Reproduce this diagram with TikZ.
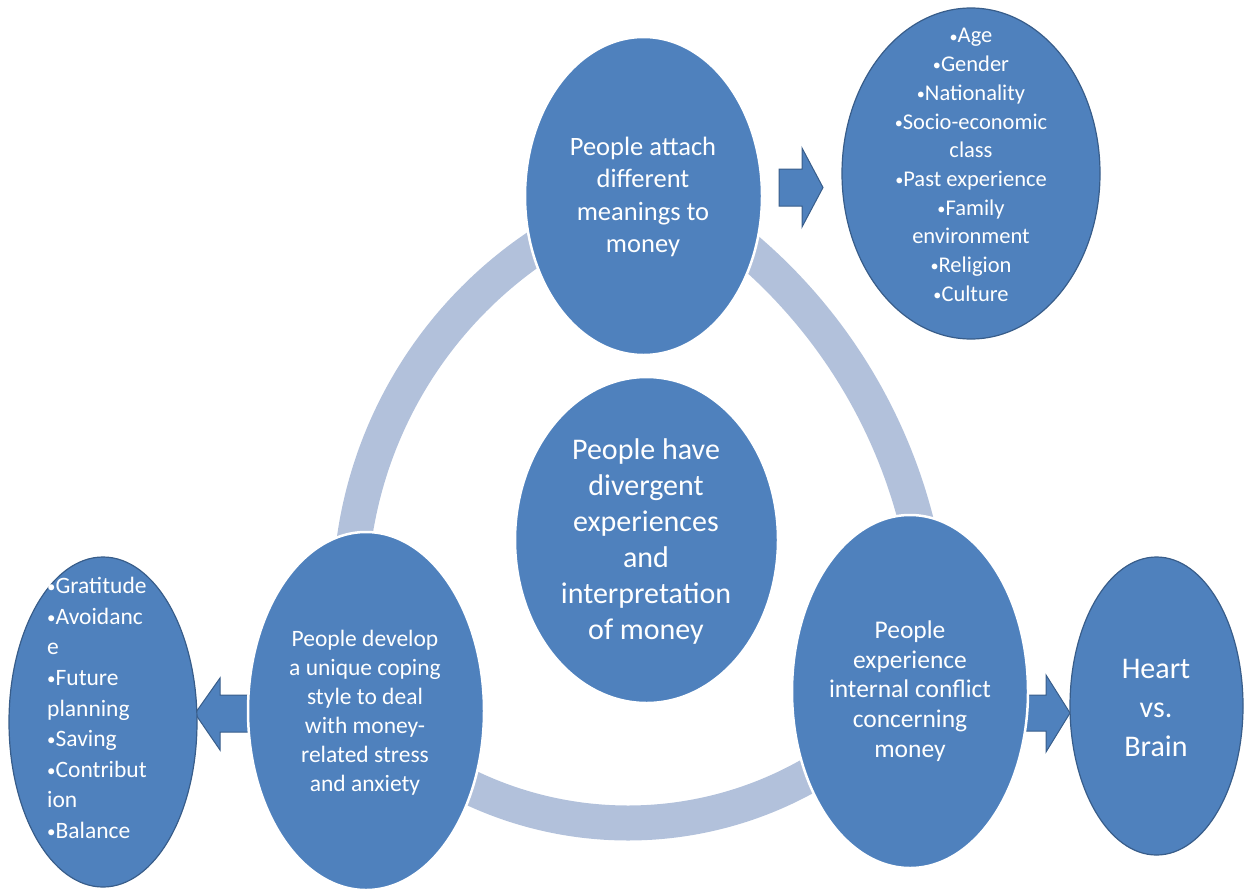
\documentclass[tikz,border=0pt]{standalone}
\usepackage{fontspec}
\usepackage{graphicx}
\setmainfont{Carlito}
\usetikzlibrary{shapes.geometric}
\definecolor{nodeblue}{RGB}{79,129,189}
\definecolor{edgeblue}{RGB}{56,93,138}
\definecolor{ringblue}{RGB}{178,193,219}
\newcommand{\mybullet}{\raisebox{0.04em}{\scalebox{0.72}{•}}}
\tikzset{
  mainell/.style={ellipse, fill=nodeblue, draw=white, line width=2.5pt, inner sep=0pt},
  sideell/.style={ellipse, fill=nodeblue, draw=edgeblue, line width=1.2pt, inner sep=0pt},
  ringarc/.style={draw=ringblue, line width=35pt},
  blockarrow/.style={fill=nodeblue, draw=edgeblue, line width=1pt, line join=miter},
  txt/.style={text=white, align=center, inner sep=0pt},
}
\begin{document}
\begin{tikzpicture}[x=1pt,y=-1pt]
\useasboundingbox (0,0) rectangle (1246,894);
% ring arcs
\draw[ringarc] plot[domain=186:238, samples=80, smooth] ({775+425*cos(\x)}, {599+425*sin(\x)});
\draw[ringarc] plot[domain=-51:-12, samples=80, smooth] ({401.75+531*cos(\x)}, {652.8+531*sin(\x)});
\draw[ringarc] plot[domain=57:119, samples=80, smooth] ({628+368*cos(\x)}, {455+368*sin(\x)});
% block arrows
\draw[blockarrow] (779,169) -- (802,169) -- (802,148) -- (823,187.5) -- (802,227) -- (802,206) -- (779,206) -- cycle;
\draw[blockarrow] (250,695) -- (220,695) -- (220,678) -- (195,713.5) -- (220,750) -- (220,732) -- (250,732) -- cycle;
\draw[blockarrow] (1020,695) -- (1046,695) -- (1046,675) -- (1070,713) -- (1046,752) -- (1046,731) -- (1020,731) -- cycle;
% ellipses
\node[mainell, minimum width=237pt, minimum height=318pt] (meaning) at (643.5,196) {};
\node[sideell, minimum width=258pt, minimum height=331pt] (factors) at (971,173.5) {};
\node[mainell, minimum width=263pt, minimum height=326pt] (core) at (646.5,540) {};
\node[mainell, minimum width=236pt, minimum height=358pt] (coping) at (366,711) {};
\node[mainell, minimum width=236pt, minimum height=353pt] (conflict) at (910,691.5) {};
\node[sideell, minimum width=188pt, minimum height=330pt] (styles) at (103,722) {};
\node[sideell, minimum width=173pt, minimum height=298pt] (heart) at (1156.5,706) {};
% texts
\node[txt, font=\fontsize{26.5}{32.5}\selectfont] (meaningtext) at (643,197) {People attach\\different\\meanings to\\money};
\node[txt, font=\fontsize{22.5}{28.7}\selectfont] (factorstext) at (971,165) {\mybullet Age\\\mybullet Gender\\\mybullet Nationality\\\mybullet Socio-economic\\class\\\mybullet Past experience\\\mybullet Family\\environment\\\mybullet Religion\\\mybullet Culture};
\node[txt, font=\fontsize{30}{36}\selectfont] (coretext) at (646,541) {People have\\divergent\\experiences\\and\\interpretation\\of money};
\node[txt, font=\fontsize{23.5}{29}\selectfont] (copingtext) at (365,713) {People develop\\a unique coping\\style to deal\\with money-\\related stress\\and anxiety};
\node[txt, font=\fontsize{25.5}{29.6}\selectfont] (conflicttext) at (910,691) {People\\experience\\internal conflict\\concerning\\money};
\node[txt, align=left, anchor=west, font=\fontsize{23.5}{30.6}\selectfont] (stylestext) at (47,708) {\mybullet Gratitude\\\mybullet Avoidanc\\e\\\mybullet Future\\planning\\\mybullet Saving\\\mybullet Contribut\\ion\\\mybullet Balance};
\node[txt, font=\fontsize{30}{39}\selectfont] (hearttext) at (1156,708) {Heart\\vs.\\Brain};
\end{tikzpicture}
\end{document}
